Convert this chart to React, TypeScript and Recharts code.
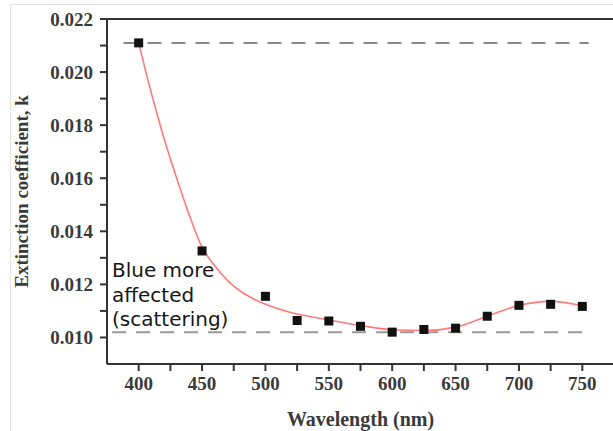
import {
  ComposedChart,
  Line,
  Scatter,
  XAxis,
  YAxis,
  ReferenceLine,
  Label,
} from "recharts";

// measured points (wavelength in nm, extinction coefficient k)
const wavelengths = [400, 450, 500, 525, 550, 575, 600, 625, 650, 675, 700, 725, 750];
const kValues = [0.0211, 0.01326, 0.01155, 0.01064, 0.01062, 0.01042, 0.0102, 0.0103, 0.01035, 0.0108, 0.01121, 0.01125, 0.01117];

// fitted curve
const fitWavelengths = [400, 410, 420, 430, 440, 450, 460, 470, 480, 490, 500, 510, 520, 535, 550, 575, 600, 625, 650, 675, 700, 725, 750];
const fitValues = [0.0211, 0.0192, 0.0175, 0.016, 0.0146, 0.0134, 0.0127, 0.01215, 0.01175, 0.01147, 0.01125, 0.01108, 0.01094, 0.01079, 0.01066, 0.01045, 0.01029, 0.01026, 0.01039, 0.0108, 0.01121, 0.01136, 0.0112];

const xTicks = [400, 425, 450, 475, 500, 525, 550, 575, 600, 625, 650, 675, 700, 725, 750, 775];
const yTicks = [0.01, 0.011, 0.012, 0.013, 0.014, 0.015, 0.016, 0.017, 0.018, 0.019, 0.02, 0.021, 0.022];

const upperLevel = 0.0211;
const lowerLevel = 0.0102;

const points = wavelengths.map((wl, i) => ({ wl, k: kValues[i] }));
const fit = fitWavelengths.map((wl, i) => ({ wl, k: fitValues[i] }));

const serif = "'Liberation Serif', 'DejaVu Serif', serif";

const tickFont = {
  fontFamily: serif,
  fontSize: 19,
  fontWeight: 700,
  fill: "#3a3a3a",
};

const SquareDot = (props: any) => {
  const { cx, cy } = props;
  if (cx == null || cy == null) return null;
  return <rect x={cx - 4.5} y={cy - 4.5} width={9} height={9} fill="#111" />;
};

export default function App() {
  return (
    <div
      style={{
        position: "absolute",
        left: 0,
        top: 0,
        width: 613,
        height: 431,
        overflow: "hidden",
        background: "#fff",
      }}
    >
      <div
        style={{
          position: "absolute",
          left: 10,
          top: 4,
          right: 0,
          bottom: 0,
          borderLeft: "1px solid #e4e4e4",
          borderTop: "1px solid #e4e4e4",
        }}
      />
      <ComposedChart
        width={614}
        height={431}
        margin={{ top: 19, right: 0, left: 0, bottom: 0 }}
      >
        <XAxis
          dataKey="wl"
          type="number"
          domain={[375, 775]}
          ticks={xTicks}
          tickFormatter={(v: number) => (v % 50 === 0 ? String(v) : "")}
          height={67}
          stroke="#333"
          strokeWidth={2}
          tickSize={7}
          tickMargin={6}
          tick={tickFont}
          allowDataOverflow
        >
          <Label
            value="Wavelength (nm)"
            position="insideBottom"
            offset={5}
            style={{ ...tickFont, fontSize: 20 }}
          />
        </XAxis>
        <YAxis
          type="number"
          domain={[0.009, 0.022]}
          ticks={yTicks}
          tickFormatter={(v: number) =>
            Math.round(v * 1000) % 2 === 0 ? v.toFixed(3) : ""
          }
          width={107}
          stroke="#333"
          strokeWidth={2}
          tickSize={7}
          tickMargin={7}
          tick={tickFont}
          allowDataOverflow
        >
          <Label
            value="Extinction  coefficient, k"
            angle={-90}
            position="insideLeft"
            offset={21}
            style={{ ...tickFont, fontSize: 19, textAnchor: "middle" }}
          />
        </YAxis>
        <ReferenceLine y={0.022} stroke="#333" strokeWidth={2} />
        <ReferenceLine
          segment={[
            { x: 388, y: upperLevel },
            { x: 755, y: upperLevel },
          ]}
          stroke="#888"
          strokeWidth={2}
          strokeDasharray="14 10"
        />
        <ReferenceLine
          segment={[
            { x: 379, y: lowerLevel },
            { x: 755, y: lowerLevel },
          ]}
          stroke="#999"
          strokeWidth={2}
          strokeDasharray="14 10"
        />
        <Line
          data={fit}
          dataKey="k"
          type="monotone"
          stroke="#ff7b7b"
          strokeWidth={1.6}
          dot={false}
          activeDot={false}
          isAnimationActive={false}
        />
        <Scatter
          data={points}
          dataKey="k"
          shape={SquareDot}
          isAnimationActive={false}
        />
      </ComposedChart>
      <div
        style={{
          position: "absolute",
          left: 112,
          top: 258,
          fontFamily: "'DejaVu Sans', sans-serif",
          fontSize: 20,
          lineHeight: "24.5px",
          color: "#161616",
        }}
      >
        Blue more
        <br />
        affected
        <br />
        (scattering)
      </div>
    </div>
  );
}
